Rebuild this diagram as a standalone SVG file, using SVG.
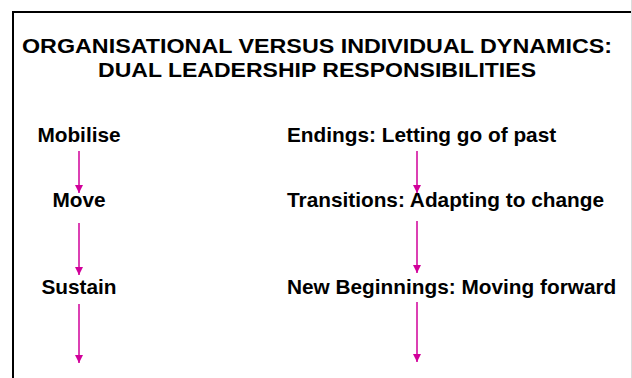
<svg xmlns="http://www.w3.org/2000/svg" width="632" height="378" viewBox="0 0 632 378">
  <style>
    .title { font-family: "Liberation Sans", Arial, sans-serif; font-weight: bold; font-size: 20.5px; fill: #000; }
    .label { font-family: "Liberation Sans", Arial, sans-serif; font-weight: bold; font-size: 20.8px; fill: #000; }
    .flow { stroke: #d1009a; stroke-width: 1.5; fill: none; marker-end: url(#head); }
  </style>
  <defs>
    <marker id="head" markerUnits="userSpaceOnUse" markerWidth="10" markerHeight="9" refX="8" refY="4.5" orient="auto">
      <path d="M0,0.5 L8,4.5 L0,8.5 Z" fill="#d1009a"/>
    </marker>
  </defs>

  <rect width="632" height="378" fill="#fff"/>
  <!-- slide frame, open to the right and bottom -->
  <rect x="13" y="12" width="640" height="400" fill="none" stroke="#000" stroke-width="2"/>
  <line x1="631.5" y1="0" x2="631.5" y2="378" stroke="#dcdcdc" stroke-width="1"/>

  <g id="title">
    <text class="title" x="22" y="52.5" textLength="590" lengthAdjust="spacingAndGlyphs">ORGANISATIONAL VERSUS INDIVIDUAL DYNAMICS:</text>
    <text class="title" x="98" y="76.5" textLength="438" lengthAdjust="spacingAndGlyphs">DUAL LEADERSHIP RESPONSIBILITIES</text>
  </g>

  <!-- organisational column -->
  <g id="mobilise"><text class="label" x="79" y="142" text-anchor="middle">Mobilise</text></g>
  <g id="move"><text class="label" x="79" y="207" text-anchor="middle">Move</text></g>
  <g id="sustain"><text class="label" x="79" y="294" text-anchor="middle">Sustain</text></g>

  <!-- individual column -->
  <g id="endings"><text class="label" x="287" y="142">Endings: Letting go of past</text></g>
  <g id="transitions"><text class="label" x="287" y="207">Transitions: Adapting to change</text></g>
  <g id="new-beginnings"><text class="label" x="287" y="294">New Beginnings: Moving forward</text></g>

  <g id="connectors">
    <line class="flow" x1="79" y1="151" x2="79" y2="193"/>
    <line class="flow" x1="79" y1="223" x2="79" y2="275"/>
    <line class="flow" x1="79" y1="304" x2="79" y2="363"/>
    <line class="flow" x1="417" y1="151" x2="417" y2="193"/>
    <line class="flow" x1="417" y1="221" x2="417" y2="273"/>
    <line class="flow" x1="417" y1="302" x2="417" y2="362"/>
  </g>
</svg>
